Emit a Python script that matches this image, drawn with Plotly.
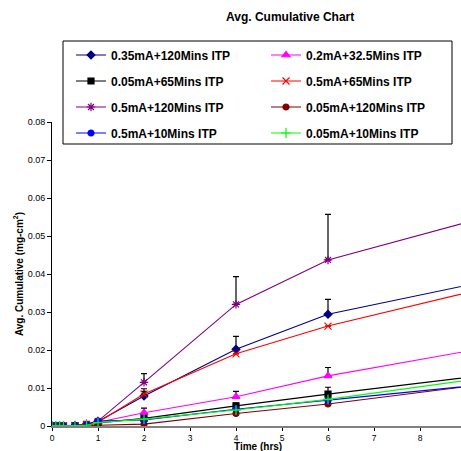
import plotly.graph_objects as go

time_hrs = [0, 0.083, 0.167, 0.25, 0.5, 0.75, 1, 2, 4, 6, 24]

names = [
    "0.35mA+120Mins ITP", "0.2mA+32.5Mins ITP",
    "0.05mA+65Mins ITP", "0.5mA+65Mins ITP",
    "0.5mA+120Mins ITP", "0.05mA+120Mins ITP",
    "0.5mA+10Mins ITP", "0.05mA+10Mins ITP",
]

v_035_120 = [0, 0, 0, 0, 0.0001, 0.0003, 0.0012, 0.0079, 0.0202, 0.0294, 0.0749]
v_02_325 = [0, 0, 0, 0, 0.0001, 0.0002, 0.0010, 0.0035, 0.0077, 0.0132, 0.0518]
v_005_65 = [0, 0, 0, 0, 0.0001, 0.0002, 0.0008, 0.0020, 0.0053, 0.0084, 0.0346]
v_05_65 = [0, 0, 0, 0, 0.0001, 0.0003, 0.0010, 0.0084, 0.0190, 0.0263, 0.0786]
v_05_120 = [0, 0, 0, 0, 0.0001, 0.0006, 0.0013, 0.0115, 0.0320, 0.0437, 0.1029]
v_005_120 = [0, 0, 0, 0, 0.0000, 0.0001, 0.0002, 0.0005, 0.0033, 0.0058, 0.0332]
v_05_10 = [0, 0, 0, 0, 0.0001, 0.0002, 0.0013, 0.0016, 0.0044, 0.0068, 0.0286]
v_005_10 = [0, 0, 0, 0, 0.0001, 0.0002, 0.0009, 0.0018, 0.0042, 0.0070, 0.0369]

e_035_120 = [0, 0, 0, 0, 0, 0, 0, 0.0019, 0.0034, 0.0039, 0]
e_02_325 = [0, 0, 0, 0, 0, 0, 0, 0.0012, 0.0014, 0.0022, 0]
e_005_65 = [0, 0, 0, 0, 0, 0, 0, 0.0003, 0.0007, 0.0018, 0]
e_05_65 = [0, 0, 0, 0, 0, 0, 0, 0.0007, 0, 0, 0]
e_05_120 = [0, 0, 0, 0, 0, 0, 0, 0.0023, 0.0073, 0.0120, 0]
e_005_120 = [0, 0, 0, 0, 0, 0, 0, 0, 0, 0, 0]
e_05_10 = [0, 0, 0, 0, 0, 0, 0, 0, 0, 0, 0]
e_005_10 = [0, 0, 0, 0, 0, 0, 0, 0, 0, 0, 0]

values = [v_035_120, v_02_325, v_005_65, v_05_65, v_05_120, v_005_120, v_05_10, v_005_10]
errors = [e_035_120, e_02_325, e_005_65, e_05_65, e_05_120, e_005_120, e_05_10, e_005_10]
colors = ["#000080", "#FF00FF", "#000000", "#FF0000", "#800080", "#800000", "#0000FF", "#00FF00"]
symbols = ["diamond", "triangle-up", "square", "x-thin-open", "asterisk-open", "circle", "circle", "cross-thin-open"]
sizes = [6, 7, 6, 7, 7, 6, 6, 7]

y_ticks = [0, 0.01, 0.02, 0.03, 0.04, 0.05, 0.06, 0.07, 0.08]
y_tick_text = ["0", "0.01", "0.02", "0.03", "0.04", "0.05", "0.06", "0.07", "0.08"]
x_ticks = [0, 1, 2, 3, 4, 5, 6, 7, 8]

W, H = 461, 451
L, R, T, B = 52, 0, 122, 25
pw, ph = W - L - R, H - T - B


def px_x(p):
    return (p - L) / pw


def px_y(p):
    return (H - B - p) / ph


legend_ids = ["legend"] + ["legend%d" % k for k in range(2, 9)]

fig = go.Figure()
for i in range(8):
    fig.add_trace(go.Scatter(
        x=time_hrs, y=values[i], name=names[i], mode="lines+markers",
        line=dict(color=colors[i], width=1.1),
        marker=dict(symbol=symbols[i], size=sizes[i], color=colors[i],
                    line=dict(color=colors[i], width=1.2)),
        error_y=dict(type="data", array=errors[i], symmetric=False,
                     arrayminus=[0] * len(errors[i]), color="#000000",
                     thickness=1.2, width=3),
        legend=legend_ids[i],
    ))

leg_common = dict(bgcolor="rgba(0,0,0,0)", borderwidth=0,
                  font=dict(family="Liberation Sans, Arial", size=12, color="#000000",
                            weight="bold"),
                  xanchor="left", yanchor="middle", itemwidth=30)
rows_y = [55, 81, 107, 133]
cols_x = [71, 266]

legend_layout = {}
for i in range(8):
    legend_layout[legend_ids[i]] = dict(x=px_x(cols_x[i % 2]), y=px_y(rows_y[i // 2]), **leg_common)

fig.update_layout(
    width=W, height=H,
    margin=dict(l=L, r=R, t=T, b=B, pad=0),
    paper_bgcolor="white", plot_bgcolor="white",
    font=dict(family="Liberation Sans, Arial", color="#000000"),
    showlegend=True,
    **legend_layout,
    xaxis=dict(range=[0, (W - L) / 46.0], tickvals=x_ticks, ticks="outside", ticklen=3,
               tickcolor="#000000", showline=True, linecolor="#808080", linewidth=2,
               showgrid=False, zeroline=False, tickfont=dict(size=8.5)),
    yaxis=dict(range=[0, 0.08], tickvals=y_ticks, ticktext=y_tick_text, ticks="outside",
               ticklen=4, tickcolor="#000000", showline=True, linecolor="#000000",
               linewidth=1, showgrid=False, zeroline=False, tickfont=dict(size=9),
               title=dict(text="<b>Avg. Cumulative (mg-cm<sup>2</sup>)</b>",
                          font=dict(size=10), standoff=2)),
    annotations=[
        dict(text="<b>Avg. Cumulative Chart</b>", xref="paper", yref="paper",
             x=px_x(290), y=px_y(17), showarrow=False, font=dict(size=12),
             xanchor="center", yanchor="middle"),
        dict(text="<b>Time (hrs)</b>", xref="paper", yref="paper",
             x=px_x(258), y=px_y(446.5), showarrow=False, font=dict(size=10),
             xanchor="center", yanchor="middle"),
    ],
    shapes=[
        dict(type="rect", xref="paper", yref="paper",
             x0=px_x(63), x1=px_x(452), y0=px_y(144), y1=px_y(41),
             line=dict(color="#000000", width=1), fillcolor="rgba(0,0,0,0)"),
    ],
)

fig.write_html("out.html", config={"displayModeBar": False},
               post_script="document.body.style.margin='0px';")
